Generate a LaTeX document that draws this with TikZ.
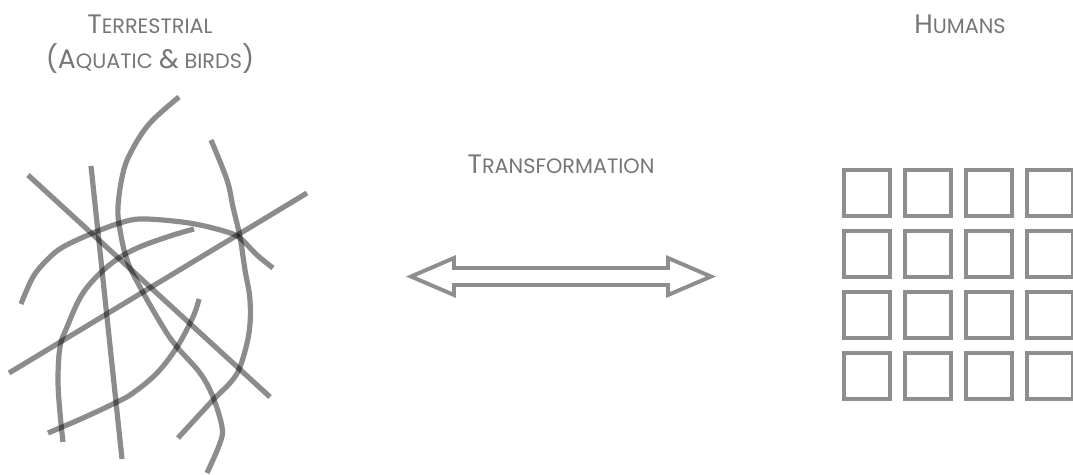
\documentclass[tikz,border=0pt]{standalone}
\usepackage{fontspec}
\newfontfamily\labelfont{Poppins}
\usepackage{xcolor}
\definecolor{inkgray}{RGB}{118,118,118}
\definecolor{cellgray}{RGB}{142,142,142}
\usetikzlibrary{positioning}
\newcommand{\scbig}[1]{{\fontsize{19}{22}\selectfont #1}}
\newcommand{\scsmall}[1]{{\fontsize{14.8}{17}\selectfont #1}}
\tikzset{
  label text/.style={font=\labelfont, text=inkgray, anchor=base, inner sep=0pt},
  strand/.style={line width=3.7pt, black, opacity=0.45},
  cell/.style={line width=3pt, draw=cellgray},
  twoway/.style={line width=2.8pt, draw=cellgray, line join=miter}
}

\begin{document}
\begin{tikzpicture}[x=0.025cm, y=-0.025cm]
  \useasboundingbox (0,0) rectangle (1073,474);

  % Titles
  \node[label text] (terr) at (150,33) {\scbig{T}\scsmall{ERRESTRIAL}};
  \node[label text] (aquatic) at (150,68) {\scbig{(A}\scsmall{QUATIC}\hspace{0.45em}\scbig{\&}\hspace{0.4em}\scsmall{BIRDS}\scbig{)}};
  \node[label text] (humans) at (960,33) {\scbig{H}\scsmall{UMANS}};
  \node[label text] (transf) at (561,173) {\scbig{T}\scsmall{RANSFORMATION}};

  % Tangled strands
  \draw[strand] (28,175) -- (270,397);
  \draw[strand] (91,166) -- (122,459);
  \draw[strand] (9,373) -- (307,193);
  \draw[strand] plot[smooth, tension=0.6] coordinates {(179,97) (150,123) (132,150) (123,173) (118,207) (120,230) (127,260) (140,287) (163,327) (177,347) (200,373) (213,397) (222,427) (220,443) (207,473)};
  \draw[strand] plot[smooth, tension=0.6] coordinates {(21,304) (33,277) (47,260) (63,247) (93,233) (120,223) (140,219) (173,221) (200,225) (227,232) (240,238) (257,255) (273,268)};
  \draw[strand] plot[smooth, tension=0.6] coordinates {(194,229) (167,237) (133,250) (107,267) (83,293) (67,327) (60,347) (58,380) (60,413) (63,442)};
  \draw[strand] plot[smooth, tension=0.6] coordinates {(211,140) (227,180) (233,207) (240,237) (245,270) (250,300) (249,333) (240,367) (230,383) (213,400) (178,438)};
  \draw[strand] plot[smooth, tension=0.6] coordinates {(199,299) (193,317) (177,347) (157,373) (133,393) (117,402) (83,418) (48,433)};

  % Double arrow
  \draw[twoway] (411,276.5) -- (454,258) -- (454,268) -- (668,268) -- (668,258) -- (711,276.5)
    -- (668,295) -- (668,285) -- (454,285) -- (454,295) -- cycle;

  % Grid of cells
  \foreach \i in {0,...,3}
    \foreach \j in {0,...,3}
      \draw[cell] (844+61*\i,170+61*\j) rectangle ++(46,46);
\end{tikzpicture}
\end{document}
